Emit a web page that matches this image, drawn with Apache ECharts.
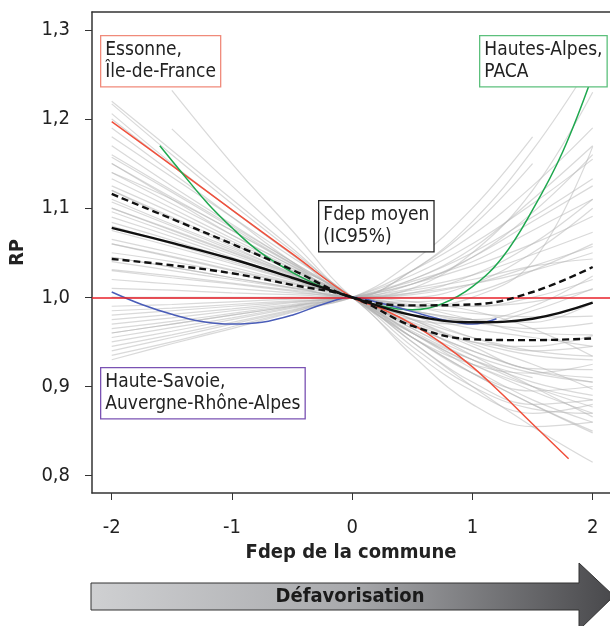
<!DOCTYPE html>
<html><head><meta charset="utf-8">
<script src="https://cdn.jsdelivr.net/npm/echarts@6/dist/echarts.min.js"></script>
<style>html,body{margin:0;padding:0;background:#fff}#c{width:610px;height:626px}</style>
</head><body><div id="c"></div><script>
// ---- data ----
const xTicks = [-2, -1, 0, 1, 2];
const yTicks = [0.8, 0.9, 1.0, 1.1, 1.2, 1.3];
const xGrid = [-2, -1.5, -1, -0.5, 0, 0.5, 1, 1.5, 2];
const meanRP  = [1.078, 1.061, 1.043, 1.022, 1.0, 0.980, 0.972, 0.976, 0.994];
const upperRP = [1.116, 1.088, 1.060, 1.031, 1.0, 0.991, 0.992, 1.006, 1.034];
const lowerRP = [1.043, 1.036, 1.027, 1.014, 1.0, 0.968, 0.953, 0.952, 0.954];
const xEssonne = [-2, -1.5, -1, -0.5, 0, 0.25, 0.5, 0.75, 1, 1.25, 1.5, 1.8];
const essonneRP = [1.197, 1.148, 1.098, 1.049, 1.0, 0.987, 0.970, 0.948, 0.922, 0.891, 0.858, 0.819];
const xAlpes = [-1.6, -1.4, -1.2, -1, -0.8, -0.6, -0.4, -0.2, 0, 0.25, 0.5, 0.75, 1, 1.25, 1.5, 1.75, 2];
const alpesRP = [1.170, 1.137, 1.105, 1.078, 1.054, 1.036, 1.021, 1.009, 1.0, 0.990, 0.986, 0.993, 1.012, 1.045, 1.098, 1.163, 1.249];
const xSavoie = [-2, -1.75, -1.5, -1.25, -1, -0.75, -0.5, -0.25, 0, 0.25, 0.5, 0.75, 1, 1.2];
const savoieRP = [1.006, 0.992, 0.981, 0.973, 0.970, 0.972, 0.980, 0.992, 1.0, 0.993, 0.984, 0.975, 0.970, 0.976];
// other departments, values at xGrid (null = not observed)
const greyRP = [
  [1.217,1.160,1.105,1.052,1.0,0.955,0.915,0.880,0.850],
  [1.206,1.150,1.098,1.048,1.0,0.960,0.925,0.895,0.870],
  [1.170,1.125,1.082,1.040,1.0,0.962,0.930,0.905,0.890],
  [1.157,1.118,1.078,1.038,1.0,0.960,0.920,0.885,0.860],
  [1.133,1.100,1.066,1.033,1.0,0.968,0.940,0.918,0.905],
  [1.125,1.095,1.063,1.032,1.0,0.972,0.950,0.935,0.930],
  [1.107,1.080,1.053,1.026,1.0,0.970,0.935,0.900,0.866],
  [1.096,1.072,1.048,1.024,1.0,0.976,0.955,0.940,0.934],
  [1.084,1.064,1.043,1.021,1.0,0.980,0.965,0.955,0.945],
  [1.065,1.050,1.034,1.017,1.0,0.975,0.948,0.925,0.897],
  [1.031,1.024,1.016,1.008,1.0,0.985,0.972,0.965,0.971],
  [1.020,1.015,1.010,1.005,1.0,0.990,0.982,0.978,0.979],
  [1.150,1.110,1.070,1.035,1.0,0.935,0.880,0.855,0.860],
  [1.120,1.090,1.060,1.030,1.0,0.945,0.900,0.875,0.870],
  [1.180,1.135,1.090,1.045,1.0,0.940,0.895,0.870,0.880],
  [1.100,1.075,1.050,1.025,1.0,0.950,0.905,0.880,0.885],
  [1.060,1.045,1.030,1.015,1.0,0.955,0.915,0.895,0.900],
  [1.110,1.082,1.055,1.027,1.0,0.950,0.900,0.855,0.815],
  [0.935,0.950,0.967,0.984,1.0,1.030,1.070,1.125,1.190],
  [0.945,0.958,0.972,0.986,1.0,1.025,1.060,1.105,1.155],
  [0.955,0.966,0.977,0.989,1.0,1.020,1.050,1.090,1.133],
  [0.965,0.973,0.982,0.991,1.0,1.018,1.040,1.075,1.110],
  [0.980,0.985,0.990,0.995,1.0,1.015,1.035,1.060,1.091],
  [0.990,0.992,0.995,0.998,1.0,1.010,1.025,1.048,1.073],
  [1.190,1.140,1.090,1.040,1.0,1.010,1.050,1.120,1.230],
  [1.080,1.060,1.040,1.020,1.0,1.005,1.025,1.060,1.110],
  [1.140,1.105,1.070,1.035,1.0,1.000,1.015,1.050,1.100],
  [1.050,1.040,1.027,1.013,1.0,1.003,1.015,1.035,1.057],
  [1.010,1.008,1.005,1.003,1.0,1.008,1.020,1.035,1.043],
  [1.200,1.148,1.098,1.048,1.0,0.990,1.000,1.040,1.169],
  [0.960,0.970,0.980,0.990,1.0,0.975,0.945,0.920,0.919],
  [0.975,0.981,0.987,0.994,1.0,0.980,0.955,0.940,0.945],
  [0.940,0.955,0.970,0.985,1.0,0.985,0.975,0.972,0.994],
  [null,1.232,1.150,1.075,1.0,0.960,0.930,0.910,null],
  [null,1.189,1.125,1.062,1.0,0.980,0.975,0.990,1.024],
  [1.045,1.034,1.022,1.011,1.0,1.030,1.080,1.150,null],
  [1.000,1.000,1.000,1.000,1.0,0.985,0.975,null,null],
  [null,null,1.060,1.030,1.0,0.970,0.950,0.945,0.957],
  [0.950,0.962,0.975,0.988,1.0,1.040,1.100,1.180,null],
  [1.140,1.110,1.075,1.038,1.0,0.965,0.935,0.915,0.905],
  [1.090,1.068,1.045,1.022,1.0,0.968,0.940,0.918,0.910],
  [1.075,1.057,1.038,1.019,1.0,0.990,0.990,1.000,1.020],
  [1.040,1.030,1.020,1.010,1.0,0.992,0.990,0.995,1.009],
  [1.000,0.999,0.999,1.000,1.0,1.005,1.015,1.030,1.050],
  [0.970,0.977,0.985,0.992,1.0,0.995,0.985,0.965,0.934],
  [1.160,1.120,1.080,1.040,1.0,0.955,0.925,0.915,0.925],
  [1.060,1.046,1.031,1.016,1.0,0.960,0.925,0.900,0.885],
  [1.100,1.076,1.051,1.026,1.0,0.995,1.005,1.030,1.060],
  [1.220,1.165,1.110,1.055,1.0,0.975,0.970,0.985,1.010],
  [0.985,0.988,0.992,0.996,1.0,1.020,1.055,1.110,1.170],
  [1.030,1.022,1.015,1.007,1.0,1.030,1.085,1.165,1.265],
  [1.150,1.112,1.075,1.037,1.0,1.015,1.045,1.095,1.160],
  [0.960,0.970,0.980,0.990,1.0,1.015,1.045,1.085,1.125],
  [1.120,1.088,1.057,1.027,1.0,0.955,0.915,0.880,0.848],
  [1.045,1.034,1.022,1.011,1.0,0.965,0.930,0.900,0.877],
  [0.930,0.948,0.965,0.983,1.0,0.990,0.975,0.960,0.958]
];

// ---- chart ----
const FONT = "'Liberation Sans Narrow','DejaVu Sans Condensed','Liberation Sans',Arial,sans-serif";
const pairs = (xs, ys) => xs.map((x, i) => [x, ys[i]]).filter(p => p[1] !== null);
const chart = echarts.init(document.getElementById('c'), null, {renderer: 'canvas'});

const series = [];
greyRP.forEach((ys) => series.push({
  type: 'line', data: pairs(xGrid, ys), showSymbol: false, smooth: 0.4, silent: true, z: 1,
  lineStyle: {color: 'rgba(180,180,180,0.5)', width: 1.2}
}));
series.push({
  type: 'line', data: [], silent: true, z: 3,
  markLine: {silent: true, symbol: ['none', 'none'], label: {show: false},
    lineStyle: {color: '#e8202a', width: 1.5, type: 'solid'}, data: [{yAxis: 1}]}
});
series.push({type: 'line', data: pairs(xEssonne, essonneRP), showSymbol: false, smooth: 0.4, z: 4,
  lineStyle: {color: '#f0503c', width: 1.5}});
series.push({type: 'line', data: pairs(xAlpes, alpesRP), showSymbol: false, smooth: 0.4, z: 4,
  lineStyle: {color: '#1fa84f', width: 1.5}});
series.push({type: 'line', data: pairs(xSavoie, savoieRP), showSymbol: false, smooth: 0.4, z: 4,
  lineStyle: {color: '#4a5db8', width: 1.5}});
series.push({type: 'line', data: pairs(xGrid, upperRP), showSymbol: false, smooth: 0.4, z: 5,
  lineStyle: {color: '#111', width: 2.4, type: [7, 4]}});
series.push({type: 'line', data: pairs(xGrid, lowerRP), showSymbol: false, smooth: 0.4, z: 5,
  lineStyle: {color: '#111', width: 2.4, type: [7, 4]}});
series.push({type: 'line', data: pairs(xGrid, meanRP), showSymbol: false, smooth: 0.4, z: 6,
  lineStyle: {color: '#111', width: 2.4}});

const box = (text, left, top, color) => ({
  type: 'text', left: left, top: top, z: 20,
  style: {text: text, font: '19px ' + FONT, fill: '#222', lineHeight: 22,
    backgroundColor: '#fff', borderColor: color, borderWidth: 1.3, padding: [3, 4, 3, 4]}
});

const XMIN = -2.164, XMAX = 2.144;
chart.setOption({
  animation: false,
  backgroundColor: '#fff',
  grid: {left: 92, top: 12, width: 518, height: 481, show: false},
  xAxis: [{
    type: 'value', min: XMIN, max: XMAX,
    axisLine: {show: true, onZero: false, lineStyle: {color: '#333', width: 1.5}}, splitLine: {show: false},
    axisTick: {show: true, length: 7, customValues: xTicks, lineStyle: {color: '#333', width: 1}},
    axisLabel: {customValues: xTicks, fontSize: 20, color: '#222', margin: 25, fontFamily: FONT,
      formatter: v => String(v)},
    name: 'Fdep de la commune', nameLocation: 'middle', nameGap: 50,
    nameTextStyle: {fontSize: 20, fontWeight: 'bold', color: '#222', fontFamily: FONT}
  }, {
    type: 'value', min: XMIN, max: XMAX, position: 'top',
    axisLine: {show: true, onZero: false, lineStyle: {color: '#333', width: 1.5}},
    axisTick: {show: false}, axisLabel: {show: false}, splitLine: {show: false}
  }],
  yAxis: {
    type: 'value', min: 0.7806, max: 1.32,
    axisLine: {show: true, onZero: false, lineStyle: {color: '#333', width: 1.5}}, splitLine: {show: false},
    axisTick: {show: true, length: 7, customValues: yTicks, lineStyle: {color: '#333', width: 1}},
    axisLabel: {customValues: yTicks, fontSize: 20, color: '#222', margin: 22, fontFamily: FONT,
      formatter: v => v.toFixed(1).replace('.', ',')},
    name: 'RP', nameLocation: 'middle', nameGap: 64, nameRotate: 90,
    nameTextStyle: {fontSize: 20, fontWeight: 'bold', color: '#222', fontFamily: FONT}
  },
  series: series,
  graphic: [
    box('Essonne,\nÎle-de-France', 100, 35, '#f08a7a'),
    box('Hautes-Alpes,\nPACA', 479, 35, '#5cc07c'),
    box('Fdep moyen\n(IC95%)', 318, 200, '#222'),
    box('Haute-Savoie,\nAuvergne-Rhône-Alpes', 100, 367, '#7a52b3'),
    {
      type: 'polygon', z: 10,
      shape: {points: [[91, 583], [579, 583], [579, 563], [614, 596], [579, 630], [579, 610], [91, 610]]},
      style: {
        fill: new echarts.graphic.LinearGradient(0, 0, 1, 0, [
          {offset: 0, color: '#cfd0d2'}, {offset: 0.5, color: '#a8a9ac'}, {offset: 1, color: '#48484b'}]),
        stroke: '#333', lineWidth: 1
      }
    },
    {
      type: 'text', z: 11, x: 350, y: 597,
      style: {text: 'Défavorisation', font: 'bold 20px ' + FONT, fill: '#1a1a1a', align: 'center', verticalAlign: 'middle'}
    }
  ]
});
</script></body></html>
